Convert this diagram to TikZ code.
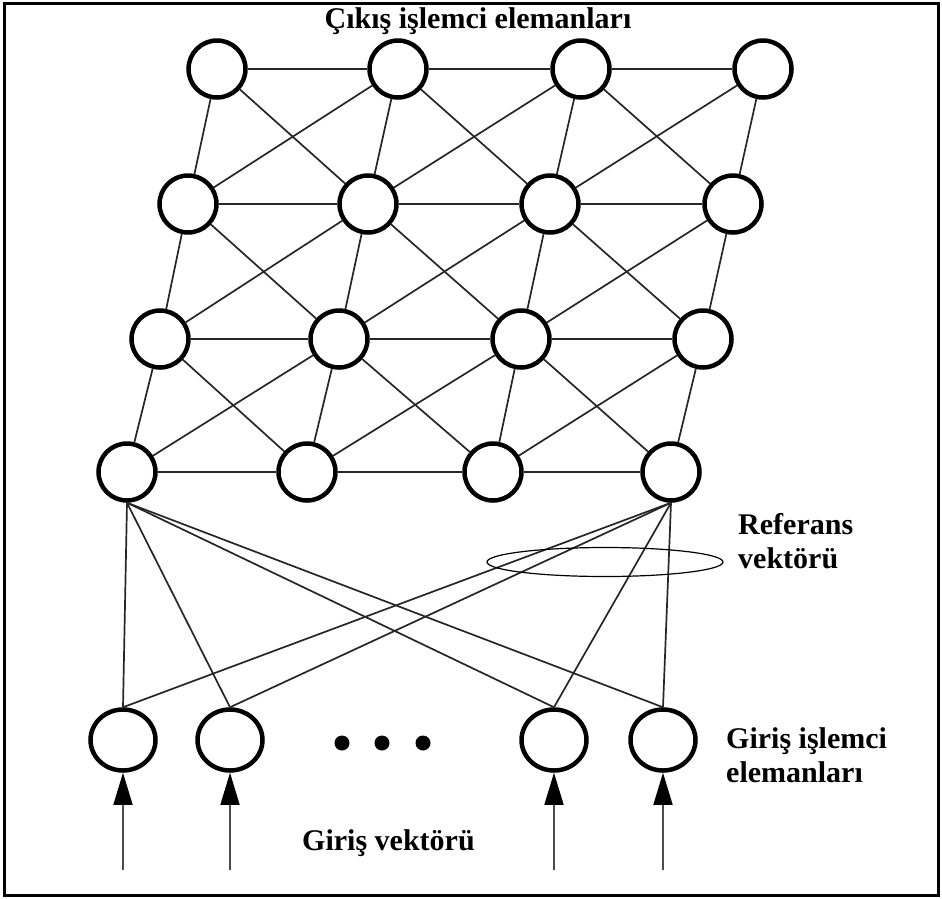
\documentclass[tikz,border=0pt]{standalone}
\usepackage{fontspec}
\setmainfont{Liberation Serif}
\usetikzlibrary{shapes.geometric, arrows.meta}

\begin{document}
\begin{tikzpicture}[x=1pt, y=-1pt,
    neuron/.style={circle, draw, line width=4.5pt, minimum size=57pt, inner sep=0pt},
    inneuron/.style={ellipse, draw, line width=4.5pt, minimum width=65pt, minimum height=61pt, inner sep=0pt},
    link/.style={line width=1.7pt, draw=black!85},
    feed/.style={line width=1.6pt, draw=black!70, -{Triangle[length=32pt, width=19pt, color=black]}},
    bigdot/.style={circle, fill, minimum size=15pt, inner sep=0pt},
    lbl/.style={font=\fontsize{30}{34}\selectfont\bfseries, inner sep=0pt}]
      \useasboundingbox (0,0) rectangle (942,898);
      \draw[line width=3pt] (4,3) rectangle (938,895);
      \node[neuron] (n11) at (217, 69) {};
      \node[neuron] (n12) at (398, 69) {};
      \node[neuron] (n13) at (581, 69) {};
      \node[neuron] (n14) at (763, 69) {};
      \node[neuron] (n21) at (188, 204) {};
      \node[neuron] (n22) at (368, 204) {};
      \node[neuron] (n23) at (550, 204) {};
      \node[neuron] (n24) at (733, 204) {};
      \node[neuron] (n31) at (160, 339) {};
      \node[neuron] (n32) at (339, 339) {};
      \node[neuron] (n33) at (521, 339) {};
      \node[neuron] (n34) at (703, 339) {};
      \node[neuron] (n41) at (127, 472) {};
      \node[neuron] (n42) at (307, 472) {};
      \node[neuron] (n43) at (493, 472) {};
      \node[neuron] (n44) at (671, 472) {};
      \node[inneuron] (g1) at (123, 740) {};
      \node[inneuron] (g2) at (230, 740) {};
      \node[inneuron] (g3) at (554, 740) {};
      \node[inneuron] (g4) at (663, 740) {};
      \node[bigdot] (dot1) at (342, 743) {};
      \node[bigdot] (dot2) at (382, 743) {};
      \node[bigdot] (dot3) at (423, 743) {};
      \coordinate (v1) at (123, 870);
      \coordinate (v2) at (230, 870);
      \coordinate (v3) at (554, 870);
      \coordinate (v4) at (663, 870);
      \draw[link] (n11) -- (n12) -- (n13) -- (n14);
      \draw[link] (n21) -- (n22) -- (n23) -- (n24);
      \draw[link] (n31) -- (n32) -- (n33) -- (n34);
      \draw[link] (n41) -- (n42) -- (n43) -- (n44);
      \draw[link] (n11) -- (n21) -- (n31) -- (n41);
      \draw[link] (n12) -- (n22) -- (n32) -- (n42);
      \draw[link] (n13) -- (n23) -- (n33) -- (n43);
      \draw[link] (n14) -- (n24) -- (n34) -- (n44);
      \draw[link] (n11) -- (n22) -- (n33) -- (n44);
      \draw[link] (n12) -- (n23) -- (n34);
      \draw[link] (n13) -- (n24);
      \draw[link] (n21) -- (n32) -- (n43);
      \draw[link] (n31) -- (n42);
      \draw[link] (n14) -- (n23) -- (n32) -- (n41);
      \draw[link] (n13) -- (n22) -- (n31);
      \draw[link] (n12) -- (n21);
      \draw[link] (n24) -- (n33) -- (n42);
      \draw[link] (n34) -- (n43);
      \draw[link] (n41.south) -- (g1.north);
      \draw[link] (n41.south) -- (g2.north);
      \draw[link] (n41.south) -- (g3.north);
      \draw[link] (n41.south) -- (g4.north);
      \draw[link] (n44.south) -- (g1.north);
      \draw[link] (n44.south) -- (g2.north);
      \draw[link] (n44.south) -- (g3.north);
      \draw[link] (n44.south) -- (g4.north);
      \node[ellipse, draw, line width=1.2pt, minimum width=236pt, minimum height=29pt] (ring) at (605, 562) {};
      \draw[feed] (v1) -- (g1);
      \draw[feed] (v2) -- (g2);
      \draw[feed] (v3) -- (g3);
      \draw[feed] (v4) -- (g4);
      \node[lbl, anchor=base] (title) at (478, 28) {Çıkış işlemci elemanları};
      \node[lbl, anchor=base west, align=left] (reflbl) at (738, 568) {Referans\\vektörü};
      \node[lbl, anchor=base west, align=left] (inlbl) at (726, 782) {Giriş işlemci\\elemanları};
      \node[lbl, anchor=base west] (veclbl) at (302, 850) {Giriş vektörü};
    \end{tikzpicture}
\end{document}
